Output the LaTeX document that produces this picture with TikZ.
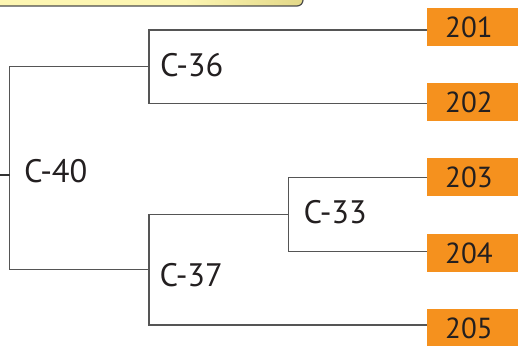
\documentclass[tikz,border=0pt]{standalone}
\usepackage{fontspec}
\setmainfont{PT Sans}
\definecolor{branchc}{HTML}{555555}
\definecolor{leafc}{HTML}{F5911E}
\definecolor{bannerl}{HTML}{FDF6B2}
\definecolor{bannerd}{HTML}{E3D888}
\definecolor{textc}{HTML}{231F20}
\tikzset{
  branch/.style={draw=branchc, line width=1.2pt},
  stub/.style={draw=black!80, line width=1.6pt},
  leaf/.style={fill=leafc, anchor=north west, minimum height=37.5pt, text width=55pt,
    inner xsep=18pt, inner ysep=0pt, align=left, font=\fontsize{29}{30}\selectfont, text=textc},
  clabel/.style={anchor=base west, inner sep=0pt, font=\fontsize{32.5}{33}\selectfont, text=textc},
}
\begin{document}
\begin{tikzpicture}[x=1pt,y=-1pt]
\useasboundingbox (0,0) rectangle (518,345);
% banner
\begin{scope}
  \clip[rounded corners=6pt] (-20,-20) rectangle (303,6);
  \fill[bannerl] (-20,-20) rectangle (303,6);
  \shade[left color=bannerl, right color=bannerd] (185,-20) rectangle (303,6);
\end{scope}
\draw[draw=black!70, line width=1.2pt, rounded corners=6pt] (-20,-20) rectangle (303,6);
% leaves
\node[leaf] (l201) at (427,8) {201};
\node[leaf] (l202) at (427,83) {202};
\node[leaf] (l203) at (427,158) {203};
\node[leaf] (l204) at (427,234) {204};
\node[leaf] (l205) at (427,309) {205};
% joints
\coordinate (t201) at (427,30);
\coordinate (t202) at (427,103.7);
\coordinate (t203) at (427,177.7);
\coordinate (t204) at (427,251.3);
\coordinate (t205) at (427,325);
\coordinate (j36) at (149,66.7);
\coordinate (j33) at (288.3,214.3);
\coordinate (j37) at (149,269.3);
\coordinate (root) at (9.5,175);
\coordinate (rootin) at (0,175);
% branches
\draw[branch] (t201) -| (j36) |- (t202);
\draw[branch] (t203) -| (j33) |- (t204);
\draw[branch] (j33) -| (j37) |- (t205);
\draw[branch] (j36) -| (root) |- (j37);
\draw[stub] (rootin) -- (root);
% labels
\node[clabel] (c36) at (160,76.7) {C-36};
\node[clabel] (c40) at (24,182.7) {C-40};
\node[clabel] (c37) at (159.5,286.7) {C-37};
\node[clabel] (c33) at (303.5,223.3) {C-33};
\end{tikzpicture}
\end{document}
